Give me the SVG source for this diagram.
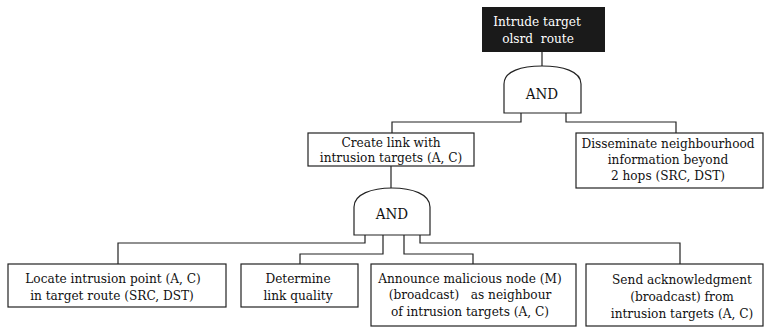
<svg xmlns="http://www.w3.org/2000/svg" width="765" height="328" viewBox="0 0 765 328">
<style>
.box{fill:#fff;stroke:#222;stroke-width:1.2}
.gate{fill:#fff;stroke:#222;stroke-width:1.2}
.t{font-family:'DejaVu Serif Condensed','DejaVu Serif',serif;font-stretch:condensed;font-size:13.5px;fill:#111;text-anchor:middle}
.g{font-size:15px}
.w{fill:#fff}
.c{fill:none;stroke:#222;stroke-width:1.2}
</style>
<rect width="765" height="328" fill="#fff"/>
<g id="connectors">
<path class="c" d="M542,52 V67"/>
<path class="c" d="M521,113 V122 H392 V133"/>
<path class="c" d="M566,113 V122 H676 V133"/>
<path class="c" d="M391,166 V189"/>
<path class="c" d="M365,235 V243 H118 V264"/>
<path class="c" d="M383,235 V254 H300 V264"/>
<path class="c" d="M404,235 V254 H473 V264"/>
<path class="c" d="M420,235 V243 H680 V264"/>
</g>
<g id="root">
<rect x="482" y="7" width="123" height="45" fill="#1a1a1a"/>
<text class="t w" x="537" y="26">Intrude target</text>
<text class="t w" x="538" y="43" xml:space="preserve">olsrd  route</text>
</g>
<g id="and1">
<path class="gate" d="M504,113 V84 C504,71 522,66 542,66 C562,66 581,71 581,84 V113 Z"/>
<text class="t g" x="542" y="99">AND</text>
</g>
<g id="create-link">
<rect class="box" x="308" y="133" width="166" height="33"/>
<text class="t" x="391" y="147">Create link with</text>
<text class="t" x="391" y="162">intrusion targets (A, C)</text>
</g>
<g id="disseminate">
<rect class="box" x="576" y="133" width="187" height="55"/>
<text class="t" x="668" y="148">Disseminate neighbourhood</text>
<text class="t" x="668" y="164">information beyond</text>
<text class="t" x="668" y="180">2 hops (SRC, DST)</text>
</g>
<g id="and2">
<path class="gate" d="M354,235 V207 C354,194 372,188 392,188 C412,188 430,194 430,207 V235 Z"/>
<text class="t g" x="392" y="219">AND</text>
</g>
<g id="locate">
<rect class="box" x="8" y="264" width="218" height="43"/>
<text class="t" x="113" y="283">Locate intrusion point (A, C)</text>
<text class="t" x="112" y="300">in target route (SRC, DST)</text>
</g>
<g id="determine">
<rect class="box" x="241" y="264" width="117" height="43"/>
<text class="t" x="298" y="283">Determine</text>
<text class="t" x="298" y="300">link quality</text>
</g>
<g id="announce">
<rect class="box" x="371" y="264" width="205" height="62"/>
<text class="t" x="470" y="283">Announce malicious node (M)</text>
<text class="t" x="470" y="299" xml:space="preserve">(broadcast)   as neighbour</text>
<text class="t" x="470" y="316">of intrusion targets (A, C)</text>
</g>
<g id="send-ack">
<rect class="box" x="586" y="264" width="177" height="62"/>
<text class="t" x="682" y="284">Send acknowledgment</text>
<text class="t" x="682" y="301">(broadcast) from</text>
<text class="t" x="682" y="318">intrusion targets (A, C)</text>
</g>
</svg>
